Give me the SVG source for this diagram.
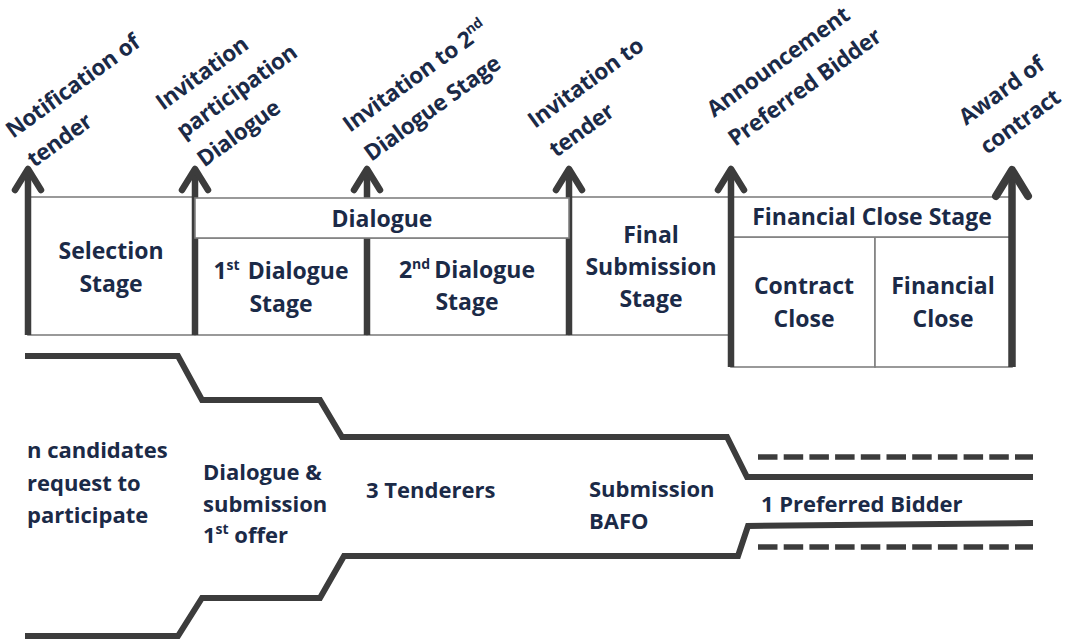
<svg xmlns="http://www.w3.org/2000/svg" width="1071" height="641" viewBox="0 0 1071 641">
<style>
  text { font-family: "Open Sans", "Liberation Sans", sans-serif; font-weight: 700; fill: #1b2a47; }
  .lbl { font-size: 22.5px; letter-spacing: -0.3px; }
  .box { font-size: 23px; text-anchor: middle; }
  .fun { font-size: 22px; }
  .cell { fill: #ffffff; stroke: #808080; stroke-width: 1.6; }
  .shaft { stroke: #3c3c3c; stroke-width: 6.5; fill: none; }
  .head { stroke: #3c3c3c; stroke-width: 6.5; fill: none; stroke-linecap: round; stroke-linejoin: round; }
  .funnel { stroke: #3c3c3c; stroke-width: 6; fill: none; stroke-linejoin: miter; }
  .dash { stroke: #3c3c3c; stroke-width: 5.5; fill: none; stroke-dasharray: 19.5 6.2; }
  .sup { font-size: 14px; }
</style>

<!-- cells -->
<g id="selection-stage">
  <rect class="cell" x="28" y="197" width="167" height="138"/>
  <text class="box" x="111" y="259">Selection</text>
  <text class="box" x="111" y="292">Stage</text>
</g>
<g id="first-dialogue-stage">
  <rect class="cell" x="195" y="238" width="172" height="97"/>
  <text class="box" x="281" y="279">1<tspan class="sup" dy="-9">st</tspan><tspan dx="8" dy="9">Dialogue</tspan></text>
  <text class="box" x="281" y="312">Stage</text>
</g>
<g id="second-dialogue-stage">
  <rect class="cell" x="367" y="238" width="202" height="97"/>
  <text class="box" x="467" y="278">2<tspan class="sup" dy="-9">nd</tspan><tspan dx="4" dy="9">Dialogue</tspan></text>
  <text class="box" x="467" y="310">Stage</text>
</g>
<g id="final-submission-stage">
  <rect class="cell" x="569" y="197" width="162" height="138"/>
  <text class="box" x="651" y="243">Final</text>
  <text class="box" x="651" y="275">Submission</text>
  <text class="box" x="651" y="307">Stage</text>
</g>
<g id="contract-close">
  <rect class="cell" x="731" y="237" width="144" height="130"/>
  <text class="box" x="804" y="294">Contract</text>
  <text class="box" x="804" y="327">Close</text>
</g>
<g id="financial-close">
  <rect class="cell" x="875" y="237" width="137" height="130"/>
  <text class="box" x="943" y="294">Financial</text>
  <text class="box" x="943" y="327">Close</text>
</g>
<g id="financial-close-stage">
  <rect class="cell" x="731" y="197" width="281" height="40"/>
  <text class="box" x="872" y="225">Financial Close Stage</text>
</g>

<!-- milestone arrows -->
<g id="connectors">
  <line class="shaft" x1="28" y1="172" x2="28" y2="335"/>
  <polyline class="head" points="15,190 28,169 41,190"/>
  <line class="shaft" x1="195" y1="172" x2="195" y2="335"/>
  <polyline class="head" points="182,190 195,169 208,190"/>
  <line class="shaft" x1="367" y1="172" x2="367" y2="335"/>
  <polyline class="head" points="354,190 367,169 380,190"/>
  <line class="shaft" x1="569" y1="172" x2="569" y2="335"/>
  <polyline class="head" points="556,190 569,169 582,190"/>
  <line class="shaft" x1="731" y1="172" x2="731" y2="367"/>
  <polyline class="head" points="718,190 731,169 744,190"/>
  <line class="shaft" x1="1012" y1="172" x2="1012" y2="367" style="stroke-width:7.5"/>
  <polyline class="head" points="996,196 1012,170 1028,196" style="stroke-width:8"/>
</g>

<g id="dialogue">
  <rect class="cell" x="195" y="198" width="374" height="40"/>
  <text class="box" x="382" y="227">Dialogue</text>
</g>

<!-- milestone labels -->
<g id="label-notification">
  <text class="lbl" transform="translate(13,139) rotate(-36)"><tspan x="0" y="0">Notification of</tspan><tspan x="0" y="36">tender</tspan></text>
</g>
<g id="label-invitation-participation">
  <text class="lbl" transform="translate(163,111) rotate(-36)"><tspan x="0" y="0">Invitation</tspan><tspan x="0" y="35">participation</tspan><tspan x="0" y="70">Dialogue</tspan></text>
</g>
<g id="label-invitation-second">
  <text class="lbl" transform="translate(350,133) rotate(-36)"><tspan x="0" y="0">Invitation to 2<tspan class="sup" dy="-9">nd</tspan></tspan><tspan x="0" y="36">Dialogue Stage</tspan></text>
</g>
<g id="label-invitation-tender">
  <text class="lbl" transform="translate(535,129) rotate(-36)"><tspan x="0" y="0">Invitation to</tspan><tspan x="0" y="36">tender</tspan></text>
</g>
<g id="label-announcement">
  <text class="lbl" transform="translate(714,118) rotate(-36)"><tspan x="0" y="0">Announcement</tspan><tspan x="0" y="36">Preferred Bidder</tspan></text>
</g>
<g id="label-award">
  <text class="lbl" transform="translate(966,126) rotate(-36)"><tspan x="0" y="0">Award of</tspan><tspan x="0" y="36">contract</tspan></text>
</g>

<!-- funnel -->
<g id="funnel">
  <polyline class="funnel" points="25,356 178,356 202,400 320,400 342,437 727,437 747,477 1033,477"/>
  <polyline class="funnel" points="25,636 178,636 202,598 320,598 344,556 738,556 748,526 1033,523"/>
  <line class="dash" x1="758" y1="457" x2="1033" y2="457"/>
  <line class="dash" x1="758" y1="547" x2="1033" y2="547"/>
</g>

<g id="funnel-labels">
  <text class="fun" x="27" y="458">n candidates</text>
  <text class="fun" x="27" y="491">request to</text>
  <text class="fun" x="27" y="523">participate</text>
  <text class="fun" x="203" y="480">Dialogue &amp;</text>
  <text class="fun" x="203" y="512">submission</text>
  <text class="fun" x="203" y="543">1<tspan class="sup" dy="-9">st</tspan><tspan dy="9"> offer</tspan></text>
  <text class="fun" x="366" y="498">3 Tenderers</text>
  <text class="fun" x="589" y="497">Submission</text>
  <text class="fun" x="589" y="529">BAFO</text>
  <text class="fun" x="761" y="512">1 Preferred Bidder</text>
</g>
</svg>
